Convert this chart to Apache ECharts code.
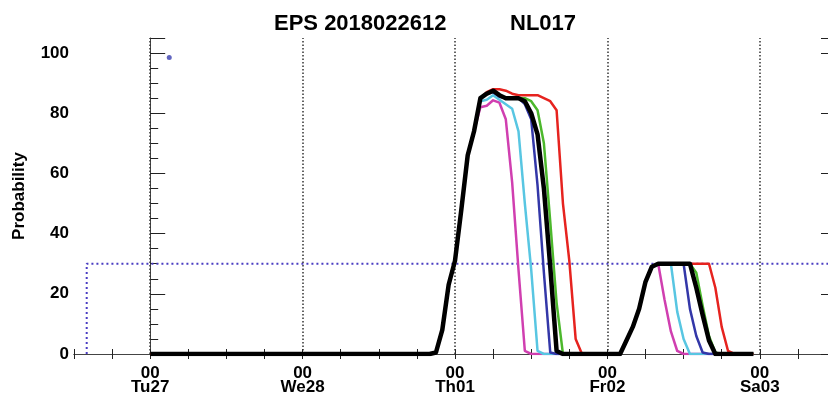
<!DOCTYPE html>
<html>
<head>
<meta charset="utf-8">
<script src="https://cdn.jsdelivr.net/npm/echarts@6/dist/echarts.min.js"></script>
<style>
  html, body { margin: 0; padding: 0; background: #fff; }
  #chart { width: 828px; height: 393px; overflow: hidden; }
</style>
</head>
<body>
<div id="chart"></div>
<script>
// hours counted from Tu27 00 UTC
const dayHours = [0, 24, 48, 72, 96];
const dayNames = ['Tu27', 'We28', 'Th01', 'Fr02', 'Sa03'];
const yTicks = [0, 20, 40, 60, 80, 100];

const magenta = [[0,0],[44,0],[45,0.5],[46,8],[47,23],[48,31],[49,48],[50,66],[51,74],[52,82],[53,82.5],[54,84.3],[55,83.5],[56,78],[57,57],[58,28],[59,1],[60,0],
  [74,0],[75,4.5],[76,9],[77,15],[78,24],[79,29],[80,30],[81,18],[82,7.5],[83,1],[84,0],[95,0]];
const cyan = [[0,0],[44,0],[45,0.5],[46,8],[47,23],[48,31],[49,48],[50,66],[51,74],[52,84],[53,84.5],[54,86],[55,84.5],[56,83],[57,81.5],[58,74],[59,50],[60,28],[61,1],[62,0],
  [74,0],[75,4.5],[76,9],[77,15],[78,24],[79,29],[80,30],[82,30],[83,14],[84,5],[85,0],[95,0]];
const blue = [[0,0],[44,0],[45,0.5],[46,8],[47,23],[48,31],[49,48],[50,66],[51,74],[52,85],[53,86.5],[54,87],[55,85.5],[56,85],[57,85],[58,85],[59,83],[60,78],[61,56],[62,27],[63,0.5],[64,0],
  [74,0],[75,4.5],[76,9],[77,15],[78,24],[79,29],[80,30],[84,30],[85,15],[86,6],[87,0.5],[88,0],[95,0]];
const green = [[0,0],[44,0],[45,0.5],[46,8],[47,23],[48,31],[49,48],[50,66],[51,74],[52,85],[53,86.5],[54,87.5],[55,86],[56,85],[57,85],[58,85],[59,85],[60,84],[61,81],[62,70],[63,44],[64,17],[65,0],
  [74,0],[75,4.5],[76,9],[77,15],[78,24],[79,29],[80,30],[85,30],[86,27],[87,16],[88,6],[89,0.5],[90,0],[95,0]];
const red = [[0,0],[44,0],[45,0.5],[46,8],[47,23],[48,31],[49,48],[50,66],[51,74],[52,85],[53,87],[54,88],[55,88],[56,87.5],[57,86.5],[58,86],[59,86],[60,86],[61,86],[62,85],[63,84],[64,81],[65,50],[66,31],[67,5],[68,0],
  [74,0],[75,4.5],[76,9],[77,15],[78,24],[79,29],[80,30],[88,30],[89,22],[90,9],[91,1],[92,0],[95,0]];
const black = [[0,0],[44,0],[45,0.5],[46,8],[47,23],[48,31],[49,48],[50,66],[51,74],[52,85],[53,86.5],[54,87.5],[55,86],[56,85],[57,85],[58,85],[59,84],[60,80],[61,73],[62,55],[63,29],[64,1],[65,0],
  [74,0],[75,4.5],[76,9],[77,15],[78,24],[79,29],[80,30],[85,30],[86,22],[87,13],[88,4.5],[89,0],[95,0]];

// threshold marker (dotted blue) and the single dot
const threshold = [[-10,0],[-10,30],[108,30]];
const dot = [[3,98.5]];

const chart = echarts.init(document.getElementById('chart'));

const tickStyle = { color: '#222', width: 1 };
const font = 'Liberation Sans, Arial, Helvetica, sans-serif';

function curve(name, data, color, width, z) {
  return {
    name: name, type: 'line', data: data, showSymbol: false, z: z,
    lineStyle: { color: color, width: width, cap: 'butt', join: 'round' },
    xAxisIndex: 0, yAxisIndex: 0, silent: true
  };
}

const option = {
  animation: false,
  backgroundColor: '#fff',
  title: [
    { text: 'EPS 2018022612', left: 269, top: 8,
      textStyle: { fontFamily: font, fontWeight: 'bold', fontSize: 22, color: '#000' } },
    { text: 'NL017', left: 505, top: 8,
      textStyle: { fontFamily: font, fontWeight: 'bold', fontSize: 22, color: '#000' } }
  ],
  grid: { left: 74, right: -8, top: 38, bottom: 39, outerBoundsMode: 'none', containLabel: false },
  xAxis: [
    {
      type: 'value', position: 'bottom', min: -12, max: 108, interval: 6,
      axisLine: { lineStyle: { color: '#444', width: 1 } },
      axisTick: { inside: true, length: 5, lineStyle: tickStyle },
      splitLine: { show: false },
      axisLabel: {
        margin: 12, fontFamily: font, fontWeight: 'bold', fontSize: 17, lineHeight: 14, color: '#000',
        formatter: function (v) {
          const i = dayHours.indexOf(v);
          return i >= 0 ? '00\n' + dayNames[i] : '';
        }
      }
    },
    {
      type: 'value', position: 'top', min: -12, max: 108, interval: 6,
      axisLine: { lineStyle: { color: '#444', width: 1 } },
      axisTick: { inside: true, length: 5, lineStyle: tickStyle },
      splitLine: { show: false },
      axisLabel: { show: false }
    }
  ],
  yAxis: [
    {
      type: 'value', min: 0, max: 105, interval: 20, position: 'left',
      name: 'Probability', nameLocation: 'middle', nameGap: 46,
      nameTextStyle: { fontFamily: font, fontWeight: 'bold', fontSize: 17, color: '#000' },
      axisLine: { show: true, lineStyle: { color: '#444', width: 1 } },
      axisTick: { inside: true, length: 15, lineStyle: tickStyle },
      splitLine: { show: false },
      axisLabel: {
        margin: 5, fontFamily: font, fontWeight: 'bold', fontSize: 17, color: '#000',
        formatter: function (v) { return yTicks.indexOf(v) >= 0 ? String(v) : ''; }
      }
    },
    {
      type: 'value', min: 0, max: 105, interval: 5, position: 'left',
      axisLine: { show: false },
      axisTick: { inside: true, length: 8, lineStyle: tickStyle },
      splitLine: { show: false }, axisLabel: { show: false }
    },
    {
      type: 'value', min: 0, max: 105, interval: 20, position: 'right',
      axisLine: { show: true, lineStyle: { color: '#444', width: 1 } },
      axisTick: { inside: true, length: 15, lineStyle: tickStyle },
      splitLine: { show: false }, axisLabel: { show: false }
    }
  ],
  series: [
    {
      name: 'threshold', type: 'line', data: threshold, showSymbol: false, z: 1, silent: true,
      lineStyle: { color: '#4a3dc2', width: 2, type: [2, 3] },
      markLine: {
        silent: true, symbol: 'none', label: { show: false },
        lineStyle: { color: '#333', width: 1.5, type: [1.5, 2] },
        data: dayHours.map(function (h) { return { xAxis: h }; })
      }
    },
    curve('magenta', magenta, '#d03fb0', 2.5, 2),
    curve('cyan', cyan, '#58c6e2', 2.5, 3),
    curve('blue', blue, '#3337a8', 2.5, 4),
    curve('green', green, '#4cb82c', 2.5, 5),
    curve('red', red, '#e6231f', 2.5, 6),
    curve('black', black, '#000', 4.5, 7),
    {
      name: 'dot', type: 'scatter', data: dot, symbolSize: 5, z: 8, silent: true,
      itemStyle: { color: '#3a3fb0' }
    }
  ]
};

chart.setOption(option);
</script>
</body>
</html>
